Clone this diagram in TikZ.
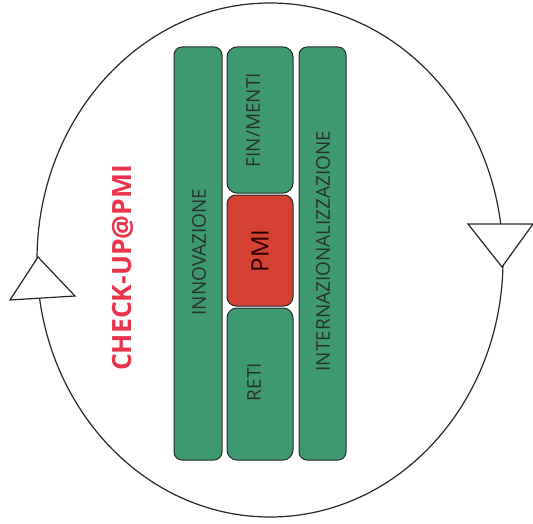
\documentclass[tikz,border=0pt]{standalone}
\usepackage{fontspec}
\setmainfont{Open Sans}
\definecolor{barg}{RGB}{62,153,112}
\definecolor{barr}{RGB}{212,64,50}
\definecolor{edgec}{RGB}{35,45,40}
\definecolor{txtc}{RGB}{40,50,45}
\definecolor{checkc}{RGB}{234,52,76}
\tikzset{
  bar/.style={draw=edgec, line width=1pt, fill=barg, rounded corners=8pt},
  pmibox/.style={draw=edgec, line width=1pt, fill=barr, rounded corners=9pt},
  lbl/.style={text=txtc, rotate=90, font=\fontsize{19}{19}\selectfont},
  ring/.style={draw=black!85, line width=1.2pt},
  tri/.style={draw=black!85, line width=1.2pt, fill=white, line join=miter}
}
\begin{document}
\begin{tikzpicture}[x=1pt,y=-1pt]
\useasboundingbox (0,0) rectangle (533,524);
% cycle ellipse
\draw[ring] (270,260) ellipse [x radius=233, y radius=257];
% arrowheads
\draw[tri] (38,257) -- (10,300) -- (75,296) -- cycle;
\draw[tri] (468,224) -- (533,224) -- (502,267) -- cycle;
% bars
\draw[bar] (174,47) rectangle (222,460);
\draw[bar] (299,47) rectangle (346,460);
\draw[bar, rounded corners=10pt] (227,47) rectangle (293,193);
\draw[pmibox] (227,195) rectangle (293,306);
\draw[bar, rounded corners=10pt] (227,308) rectangle (293,460);
% labels
\node[lbl] (inn) at (199,252) {INNOVAZIONE};
\node[lbl] (fin) at (253,120) {FIN/MENTI};
\node[lbl, text=black!85!red, font=\fontsize{24}{24}\selectfont] (pmi) at (260,251) {PMI};
\node[lbl] (ret) at (254,382) {RETI};
\node[lbl] (int) at (323,251) {INTERNAZIONALIZZAZIONE};
\node[rotate=90, text=checkc, font=\bfseries\fontsize{26.5}{26.5}\selectfont] (chk) at (123,268) {CHECK-UP@PMI};
\end{tikzpicture}
\end{document}
